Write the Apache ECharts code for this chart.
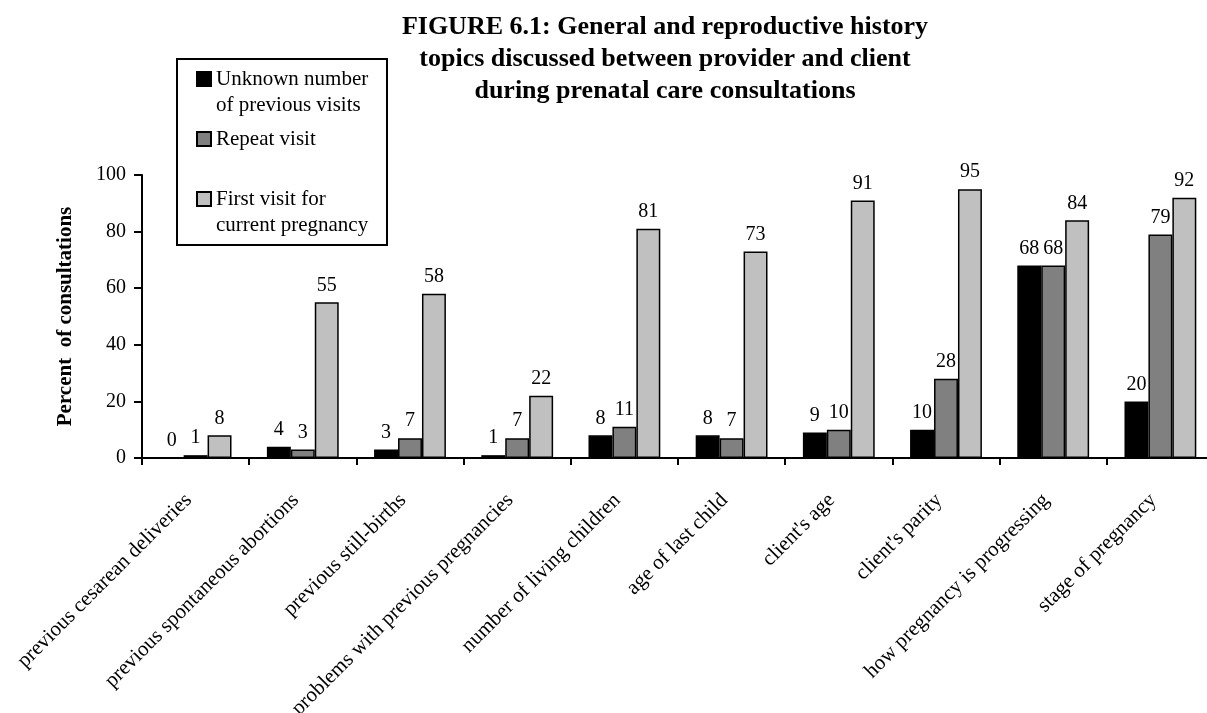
<!DOCTYPE html>
<html>
<head>
<meta charset="utf-8">
<script src="https://cdn.jsdelivr.net/npm/echarts@6/dist/echarts.min.js"></script>
<style>
  html, body { margin: 0; padding: 0; background: #fff; }
  #chart { width: 1207px; height: 713px; }
</style>
</head>
<body>
<div id="chart"></div>
<script>
// topics on the x axis
const topics = [
  'previous cesarean deliveries',
  'previous spontaneous abortions',
  'previous still-births',
  'problems with previous pregnancies',
  'number of living children',
  'age of last child',
  "client's age",
  "client's parity",
  'how pregnancy is progressing',
  'stage of pregnancy'
]

const seriesNames = ['Unknown number of previous visits', 'Repeat visit', 'First visit for current pregnancy']

// percent of consultations
const unknownVisits = [0, 4, 3, 1, 8, 8, 9, 10, 68, 20]
const repeatVisits = [1, 3, 7, 7, 11, 7, 10, 28, 68, 79]
const firstVisits = [8, 55, 58, 22, 81, 73, 91, 95, 84, 92]

const yTicks = [0, 20, 40, 60, 80, 100]

const serif = '"Liberation Serif", "Times New Roman", serif'
const colors = ['#000000', '#808080', '#c0c0c0']
// blank first line keeps the square level with the first text line
const legendText = {
  'Unknown number of previous visits': ' \nUnknown number\nof previous visits',
  'Repeat visit': 'Repeat visit',
  'First visit for current pregnancy': ' \nFirst visit for\ncurrent pregnancy'
}

const chart = echarts.init(document.getElementById('chart'))

const makeBar = (name, data, i) => ({
  name: name,
  type: 'bar',
  data: data,
  barGap: '0%',
  barCategoryGap: '33%',
  itemStyle: { color: colors[i], borderColor: '#000', borderWidth: 1.5 },
  label: {
    show: true,
    position: 'top',
    distance: 7,
    color: '#000',
    fontFamily: serif,
    fontSize: 20
  }
})

// one legend per entry so each can sit where it does in the figure
const makeLegend = (name, top) => ({
  data: [name],
  left: 196,
  top: top,
  padding: 0,
  icon: 'rect',
  itemWidth: 14,
  itemHeight: 14,
  selectedMode: false,
  formatter: n => legendText[n],
  textStyle: {
    fontFamily: serif,
    fontSize: 21,
    lineHeight: 26,
    color: '#000'
  }
})

chart.setOption({
  animation: false,
  backgroundColor: '#fff',
  title: {
    text: 'FIGURE 6.1: General and reproductive history\ntopics discussed between provider and client\nduring prenatal care consultations',
    left: 660,
    top: 6,
    textAlign: 'center',
    textStyle: {
      fontFamily: serif,
      fontWeight: 'bold',
      fontSize: 26,
      lineHeight: 32,
      color: '#000'
    }
  },
  graphic: [{
    type: 'rect',
    z: 1,
    shape: { x: 177, y: 59, width: 210, height: 186 },
    style: { fill: '#fff', stroke: '#000', lineWidth: 2 }
  }],
  legend: [
    makeLegend(seriesNames[0], 79 - 39),
    makeLegend(seriesNames[1], 139 - 13),
    makeLegend(seriesNames[2], 199 - 39)
  ],
  grid: {
    left: 142,
    top: 175,
    width: 1072,
    height: 283,
    containLabel: false,
    outerBoundsMode: 'none'
  },
  xAxis: {
    type: 'category',
    data: topics,
    boundaryGap: true,
    axisLine: { lineStyle: { color: '#000', width: 2 } },
    axisTick: { show: true, length: 7, interval: 0, lineStyle: { color: '#000', width: 2 } },
    axisLabel: {
      interval: 0,
      rotate: 45,
      margin: 32,
      padding: [0, 10, 0, 0],
      color: '#000',
      fontFamily: serif,
      fontSize: 21
    },
    splitLine: { show: false }
  },
  yAxis: {
    type: 'value',
    min: yTicks[0],
    max: yTicks[yTicks.length - 1],
    interval: 20,
    name: 'Percent  of consultations',
    nameLocation: 'middle',
    nameRotate: 90,
    nameGap: 66,
    nameTextStyle: {
      fontFamily: serif,
      fontWeight: 'bold',
      fontSize: 21,
      color: '#000'
    },
    axisLine: { show: true, lineStyle: { color: '#000', width: 2 } },
    axisTick: { show: true, length: 8, lineStyle: { color: '#000', width: 2 } },
    axisLabel: {
      margin: 16,
      color: '#000',
      fontFamily: serif,
      fontSize: 20
    },
    splitLine: { show: false }
  },
  series: [
    makeBar(seriesNames[0], unknownVisits, 0),
    makeBar(seriesNames[1], repeatVisits, 1),
    makeBar(seriesNames[2], firstVisits, 2)
  ]
})

window.addEventListener('resize', () => chart.resize())
</script>
</body>
</html>
